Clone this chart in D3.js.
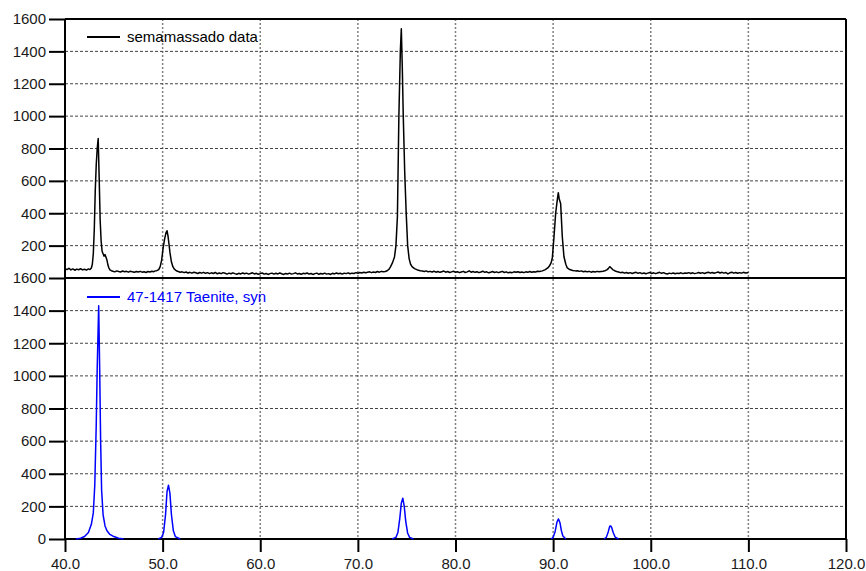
<!DOCTYPE html>
<html>
<head>
<meta charset="utf-8">
<script src="https://cdn.jsdelivr.net/npm/d3@7"></script>
<style>
  body { margin: 0; background: #fff; }
  text { font-family: "Liberation Sans", Arial, sans-serif; }
</style>
</head>
<body>
<div id="xrdPlot"></div>
<script>
// 2-theta ticks and count ticks
var angleTicks = [40, 50, 60, 70, 80, 90, 100, 110, 120]
var topCountTicks = [200, 400, 600, 800, 1000, 1200, 1400, 1600]
var bottomCountTicks = [0, 200, 400, 600, 800, 1000, 1200, 1400, 1600]

var scanName = 'semamassado data'
var refName = '47-1417 Taenite, syn'

var scanData = [
  [40.0,58],[40.2,52],[40.4,60],[40.6,50],[40.8,56],[41.0,48],[41.2,55],[41.4,51],[41.6,57],[41.8,50],
  [42.0,54],[42.2,49],[42.4,56],[42.55,52],[42.7,62],[42.8,85],[42.9,150],[43.0,300],[43.1,540],[43.2,700],
  [43.3,800],[43.4,862],[43.5,620],[43.6,360],[43.7,230],[43.8,165],[43.9,150],[44.0,135],[44.1,145],[44.2,128],
  [44.3,110],[44.4,80],[44.5,62],[44.6,50],[44.75,45],
  [44.9,42],[45.1,38],[45.3,44],[45.5,40],[45.7,37],[45.9,43],[46.1,39],[46.3,41],[46.5,36],[46.7,42],
  [46.9,38],[47.1,35],[47.3,40],[47.5,37],[47.7,41],[47.9,36],[48.1,39],[48.3,34],[48.5,40],[48.7,37],
  [48.9,42],[49.1,39],[49.25,44],
  [49.4,45],[49.6,52],[49.75,70],[49.9,110],[50.05,185],[50.2,240],[50.35,280],[50.45,292],[50.55,260],[50.65,210],
  [50.75,158],[50.9,100],[51.05,70],[51.2,55],[51.4,45],
  [51.6,40],[51.8,36],[52.0,38],[52.2,33],[52.4,37],[52.6,31],[52.8,35],[53.0,30],[53.2,36],[53.4,32],
  [53.6,28],[53.8,34],[54.0,30],[54.2,35],[54.4,29],[54.6,33],[54.8,27],[55.0,32],[55.2,28],[55.4,34],
  [55.6,26],[55.8,31],[56.0,27],[56.2,33],[56.4,29],[56.6,24],[56.8,30],[57.0,26],[57.2,32],[57.4,27],
  [57.6,23],[57.8,29],[58.0,25],[58.2,31],[58.4,26],[58.6,30],[58.8,24],[59.0,28],[59.2,32],[59.4,25],
  [59.6,29],[59.8,23],[60.0,27],[60.2,31],[60.4,24],[60.6,28],[60.8,22],[61.0,27],[61.2,30],[61.4,24],
  [61.6,29],[61.8,25],[62.0,31],[62.2,26],[62.4,22],[62.6,28],[62.8,25],[63.0,30],[63.2,24],[63.4,27],
  [63.6,32],[63.8,25],[64.0,28],[64.2,23],[64.4,29],[64.6,26],[64.8,31],[65.0,24],[65.2,28],[65.4,22],
  [65.6,27],[65.8,30],[66.0,23],[66.2,28],[66.4,25],[66.6,30],[66.8,24],[67.0,27],[67.2,22],[67.4,29],
  [67.6,25],[67.8,31],[68.0,26],[68.2,29],[68.4,24],[68.6,30],[68.8,27],[69.0,32],[69.2,26],[69.4,30],
  [69.6,28],[69.8,33],[70.0,29],[70.2,34],[70.4,31],[70.6,36],[70.8,32],[71.0,35],[71.2,38],[71.4,33],
  [71.6,37],[71.8,34],[72.0,40],[72.2,36],[72.4,41],[72.6,38],
  [72.8,40],[73.0,45],[73.2,55],[73.35,70],[73.55,95],[73.75,130],[73.9,200],[74.05,380],[74.2,1000],[74.35,1400],
  [74.45,1540],[74.55,1300],[74.65,1000],[74.8,650],[74.95,400],[75.1,200],[75.25,120],[75.4,85],[75.55,70],[75.8,58],
  [76.1,50],[76.4,45],
  [76.6,43],[76.8,40],[77.0,44],[77.2,38],[77.4,41],[77.6,37],[77.8,42],[78.0,36],[78.2,40],[78.4,35],
  [78.6,39],[78.8,43],[79.0,36],[79.2,40],[79.4,34],[79.6,38],[79.8,42],[80.0,35],[80.2,39],[80.4,33],
  [80.6,37],[80.8,41],[81.0,34],[81.2,38],[81.4,44],[81.6,36],[81.8,40],[82.0,35],[82.2,39],[82.4,33],
  [82.6,37],[82.8,42],[83.0,35],[83.2,38],[83.4,32],[83.6,36],[83.8,40],[84.0,34],[84.2,38],[84.4,33],
  [84.6,37],[84.8,41],[85.0,34],[85.2,38],[85.4,32],[85.6,36],[85.8,33],[86.0,38],[86.2,35],[86.4,39],
  [86.6,34],[86.8,37],[87.0,33],[87.2,38],[87.4,35],[87.6,40],[87.8,36],[88.0,39],[88.2,37],[88.4,42],
  [88.6,40],[88.9,44],[89.2,52],[89.45,62],[89.6,72],[89.8,95],[89.92,125],[90.09,255],[90.26,400],[90.4,470],
  [90.53,527],[90.62,490],[90.77,460],[90.94,255],[91.11,131],[91.3,85],[91.45,62],[91.7,52],[92.0,46],[92.3,44],
  [92.5,45],[92.7,41],[92.9,44],[93.1,39],[93.3,42],[93.5,38],[93.7,41],[93.9,36],[94.1,40],[94.3,37],
  [94.5,41],[94.7,38],[94.9,40],
  [95.1,42],[95.3,45],[95.5,50],[95.65,58],[95.8,70],[95.95,62],[96.1,52],[96.3,45],[96.5,40],
  [96.7,37],[96.9,33],[97.1,36],[97.3,30],[97.5,34],[97.7,29],[97.9,33],[98.1,28],[98.3,32],[98.5,35],
  [98.7,29],[98.9,33],[99.1,27],[99.3,31],[99.5,26],[99.7,30],[99.9,34],[100.1,28],[100.3,32],[100.5,27],
  [100.7,31],[100.9,35],[101.1,29],[101.3,33],[101.5,28],[101.7,25],[101.9,30],[102.1,27],[102.3,31],[102.5,26],
  [102.7,30],[102.9,28],[103.1,32],[103.3,27],[103.5,31],[103.7,29],[103.9,33],[104.1,28],[104.3,32],[104.5,27],
  [104.7,30],[104.9,34],[105.1,29],[105.3,33],[105.5,28],[105.7,32],[105.9,36],[106.1,30],[106.3,34],[106.5,29],
  [106.7,33],[106.9,37],[107.1,31],[107.3,35],[107.5,30],[107.7,34],[107.9,25],[108.1,32],[108.3,36],[108.5,30],
  [108.7,34],[108.9,29],[109.1,33],[109.3,30],[109.5,35],[109.7,31],[109.9,33],[110.0,32]
]

// reference pattern, one profile per reflection
var taenitePeaks = [
  [[41.1,0],[41.6,5],[42.0,15],[42.4,40],[42.7,90],[42.9,160],[43.05,330],[43.2,700],[43.3,1050],[43.45,1430],
   [43.55,1050],[43.65,600],[43.75,300],[43.9,150],[44.1,80],[44.3,50],[44.6,28],[45.0,15],[45.5,5],[46.0,0]],
  [[49.55,0],[49.9,10],[50.1,40],[50.3,150],[50.45,290],[50.6,330],[50.75,280],[50.9,150],[51.1,50],[51.3,15],[51.8,0]],
  [[73.5,0],[73.9,10],[74.1,40],[74.3,130],[74.45,220],[74.6,250],[74.75,200],[74.9,110],[75.1,35],[75.3,10],[75.7,0]],
  [[89.8,0],[90.0,10],[90.2,45],[90.4,105],[90.55,123],[90.7,100],[90.85,50],[91.0,18],[91.3,0]],
  [[95.2,0],[95.45,10],[95.65,45],[95.8,78],[95.9,80],[96.0,70],[96.15,40],[96.35,12],[96.7,0]]
]

class xrdPlot{
    constructor(){
        this.svgDim = {width:866, height:571}
        this.left = 65
        this.right = 846
        this.top = 19
        this.mid = 278
        this.bottom = 539
    }

    createPlot(){
        var svg = d3.select('#xrdPlot')
            .append('svg')
            .attr('width', this.svgDim.width)
            .attr('height', this.svgDim.height)
        this.svg = svg

        this.xScale = d3.scaleLinear().domain([40,120]).range([this.left, this.right])
        //upper panel for the scan, lower panel for the card
        this.yTop = d3.scaleLinear().domain([0,1600]).range([this.mid, this.top])
        this.yBot = d3.scaleLinear().domain([0,1600]).range([this.bottom, this.mid])

        //grid, vertical dotted across both panels
        svg.append('g').selectAll('line')
            .data(angleTicks.slice(1,-1))
            .enter().append('line')
            .attr('x1', d=>this.xScale(d)).attr('x2', d=>this.xScale(d))
            .attr('y1', this.top).attr('y2', this.bottom)
            .attr('stroke','#808080').attr('stroke-width',1.5)
            .attr('stroke-dasharray','2,2')

        //grid, horizontal dashed
        var hGrid = svg.append('g')
        hGrid.selectAll('.gt')
            .data(topCountTicks.slice(0,-1))
            .enter().append('line')
            .attr('x1', this.left).attr('x2', this.right)
            .attr('y1', d=>this.yTop(d)).attr('y2', d=>this.yTop(d))
        hGrid.selectAll('.gb')
            .data(bottomCountTicks.slice(1,-1))
            .enter().append('line')
            .attr('x1', this.left).attr('x2', this.right)
            .attr('y1', d=>this.yBot(d)).attr('y2', d=>this.yBot(d))
        hGrid.selectAll('line')
            .attr('stroke','#444').attr('stroke-width',1)
            .attr('stroke-dasharray','3,2')

        //axes
        var topAxis = d3.axisLeft(this.yTop).tickValues(topCountTicks)
            .tickFormat(d3.format('d')).tickSize(16).tickPadding(3)
        var botAxis = d3.axisLeft(this.yBot).tickValues(bottomCountTicks)
            .tickFormat(d3.format('d')).tickSize(16).tickPadding(3)
        var xAxis = d3.axisBottom(this.xScale).tickValues(angleTicks)
            .tickFormat(d3.format('.1f')).tickSize(13).tickPadding(6)

        svg.append('g').attr('class','axis').attr('transform',`translate(${this.left},0)`).call(topAxis)
        svg.append('g').attr('class','axis').attr('transform',`translate(${this.left},0)`).call(botAxis)
        svg.append('g').attr('class','axis').attr('transform',`translate(0,${this.bottom})`).call(xAxis)

        svg.selectAll('.axis .domain').remove()
        svg.selectAll('.axis line').attr('stroke','#000').attr('stroke-width',2)
        svg.selectAll('.axis text')
            .attr('fill','#1a1a1a')
            .style('font-size','15px')
            .style('font-family','"Liberation Sans", Arial, sans-serif')

        //frame lines
        var frame = [
            [this.left, this.top, this.right, this.top],
            [this.left, this.mid, this.right, this.mid],
            [this.left, this.bottom, this.right, this.bottom],
            [this.left, this.top, this.left, this.bottom],
            [this.right, this.top, this.right, this.bottom]
        ]
        svg.append('g').selectAll('line')
            .data(frame)
            .enter().append('line')
            .attr('x1', d=>d[0]).attr('y1', d=>d[1])
            .attr('x2', d=>d[2]).attr('y2', d=>d[3])
            .attr('stroke','#000').attr('stroke-width',2)
    }

    drawPlot(){
        var svg = this.svg
        var scanLine = d3.line()
            .x(d=>this.xScale(d[0]))
            .y(d=>this.yTop(d[1]))
        var refLine = d3.line()
            .x(d=>this.xScale(d[0]))
            .y(d=>this.yBot(d[1]))

        svg.append('path')
            .datum(scanData)
            .attr('d', scanLine)
            .attr('fill','none')
            .attr('stroke','#000')
            .attr('stroke-width',1.5)
            .attr('stroke-linejoin','round')

        svg.append('g').selectAll('path')
            .data(taenitePeaks)
            .enter().append('path')
            .attr('d', refLine)
            .attr('fill','none')
            .attr('stroke','#0000ff')
            .attr('stroke-width',1.5)
            .attr('stroke-linejoin','round')

        //legends
        var legends = [
            {name: scanName, color:'#000', y: 37},
            {name: refName, color:'#0000ff', y: 297}
        ]
        var lg = svg.append('g').selectAll('g')
            .data(legends)
            .enter().append('g')
        lg.append('line')
            .attr('x1', 87).attr('x2', 120)
            .attr('y1', d=>d.y).attr('y2', d=>d.y)
            .attr('stroke', d=>d.color).attr('stroke-width',2)
        lg.append('text')
            .attr('x', 127).attr('y', d=>d.y + 5)
            .attr('fill', d=>d.color)
            .style('font-size','15px')
            .text(d=>d.name)
    }
}

var plot = new xrdPlot()
plot.createPlot()
plot.drawPlot()
</script>
</body>
</html>
